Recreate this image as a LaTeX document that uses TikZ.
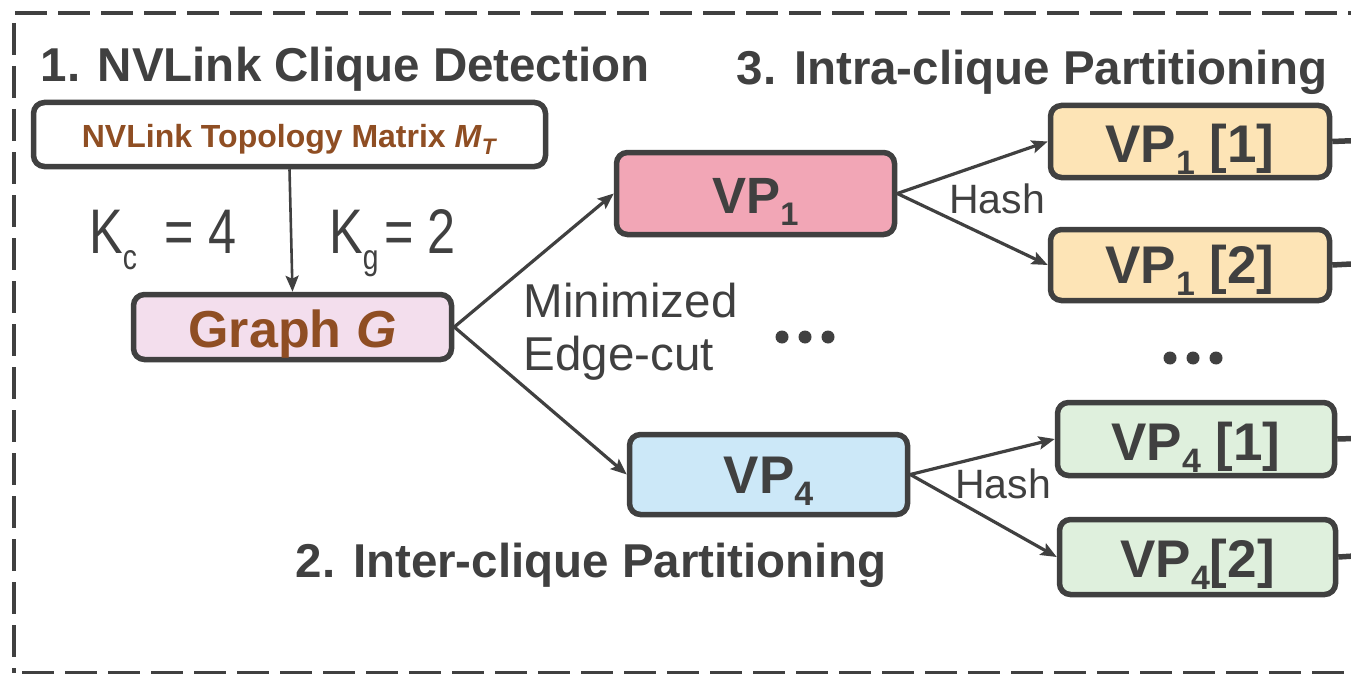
\documentclass[tikz,border=0pt]{standalone}
\usepackage{fontspec}
\setmainfont{Liberation Sans}
\newfontfamily\narrowfont[FakeStretch=0.8]{Liberation Sans}
\usetikzlibrary{arrows.meta}
\definecolor{dk}{RGB}{64,64,64}
\definecolor{brn}{RGB}{143,78,35}
\definecolor{graphfill}{RGB}{243,222,237}
\definecolor{vponefill}{RGB}{242,166,182}
\definecolor{vpfourfill}{RGB}{204,232,248}
\definecolor{orfill}{RGB}{253,228,182}
\definecolor{grfill}{RGB}{223,240,221}
\newcommand\sbx[1]{\raisebox{-0.24em}{\scalebox{0.64}{#1}}}
\newcommand\ksub[1]{\raisebox{-0.26em}{\scalebox{0.56}{#1}}}
\begin{document}
\begin{tikzpicture}[x=1pt,y=-1pt,
  box/.style={draw=dk, line width=5.5pt, rounded corners=11pt, inner sep=0pt, text=dk, font=\bfseries},
  arr/.style={draw=dk, line width=3.2pt, -{Stealth[length=16pt,width=13pt,inset=3pt]}},
  outline/.style={draw=dk, line width=5.5pt},
  border/.style={draw=dk, line width=3.5pt, dash pattern=on 32pt off 11pt},
  title/.style={inner sep=0pt, anchor=base, text=dk, font=\fontsize{47.5}{56}\selectfont\bfseries},
  plain/.style={inner sep=0pt, anchor=base west, text=dk, font=\fontsize{47.5}{53}\selectfont},
  hashlbl/.style={inner sep=0pt, anchor=base west, text=dk, font=\fontsize{41}{46}\selectfont},
  klbl/.style={inner sep=0pt, anchor=base west, text=dk, font=\narrowfont\fontsize{63}{70}\selectfont},
  vpfont/.style={font=\fontsize{53}{60}\selectfont\bfseries}
]
\useasboundingbox (0,0) rectangle (1351,674);
\fill[white] (0,0) rectangle (1351,674);

% dashed frame
\draw[border] (15,13) -- (1365,13);
\draw[border] (14,23) -- (14,673);
\draw[border] (22,673) -- (1365,673);

% titles
\node[title] (t1) at (345,82) {1. NVLink Clique Detection};
\node[title] (t3) at (1032,85) {3. Intra-clique Partitioning};
\node[title] (t2) at (591,577) {2. Inter-clique Partitioning};

% boxes
\node[box, fill=white, minimum width=512pt, minimum height=64pt, text height=25pt, text depth=0pt, text=brn,
      font=\fontsize{32}{38}\selectfont\bfseries] (T) at (289.5,134.5)
      {NVLink Topology Matrix \textit{M}\raisebox{-0.22em}{\scalebox{0.7}{\textit{T}}}};
\node[box, fill=graphfill, minimum width=318pt, minimum height=65pt, text height=40pt, text depth=0pt, text=brn,
      font=\fontsize{52}{60}\selectfont\bfseries] (G) at (292.5,327) {Graph \textit{G}};
\node[box, fill=vponefill, minimum width=278pt, minimum height=82pt, text height=39pt, text depth=0pt,
      font=\fontsize{51}{60}\selectfont\bfseries] (VP1) at (755.5,193.5) {VP\sbx{1}};
\node[box, vpfont, fill=vpfourfill, minimum width=278pt, minimum height=80pt, text height=37pt, text depth=0pt] (VP4) at (768.5,474.5) {VP\sbx{4}};
\node[box, vpfont, fill=orfill, minimum width=279pt, minimum height=72pt, text height=41pt, text depth=0pt] (VP11) at (1190,141.5) {VP\sbx{1}\ [1]};
\node[box, vpfont, fill=orfill, minimum width=279pt, minimum height=71pt, text height=36pt, text depth=0pt] (VP12) at (1190,265) {VP\sbx{1}\ [2]};
\node[box, vpfont, fill=grfill, minimum width=277pt, minimum height=73pt, text height=42pt, text depth=0pt] (VP41) at (1196,439) {VP\sbx{4}\ [1]};
\node[box, vpfont, fill=grfill, minimum width=276pt, minimum height=75pt, text height=40pt, text depth=0pt] (VP42) at (1197.5,557) {VP\sbx{4}[2]};

% labels
\node[klbl] (kc) at (89,253) {K\ksub{c}\ \ = 4};
\node[klbl] (kg) at (329,253) {K\ksub{g}\hspace{6pt}= 2};
\node[plain] (min1) at (523.5,317) {Minimized};
\node[plain] (min2) at (523.5,370) {Edge-cut};
\node[hashlbl] (h1) at (949,213) {Hash};
\node[hashlbl] (h2) at (955,498) {Hash};

% dots
\fill[dk] (782,337) circle (6.5pt) (805,337) circle (6.5pt) (828,337) circle (6.5pt);
\fill[dk] (1170,358) circle (6.5pt) (1193,358) circle (6.5pt) (1216,358) circle (6.5pt);

% arrows
\draw[arr, line width=2.6pt] (T.south) -- (G.north);
\draw[arr] (G.east) -- (VP1.west);
\draw[arr] (G.east) -- (VP4.west);
\draw[arr] (VP1.east) -- (VP11.west);
\draw[arr] (VP1.east) -- (VP12.west);
\draw[arr] (VP4.east) -- (VP41.west);
\draw[arr] (VP4.east) -- (VP42.west);

% outgoing lines at the right edge
\coordinate (o1) at (1370,140);
\coordinate (o2) at (1370,263);
\coordinate (o3) at (1370,438);
\coordinate (o4) at (1370,555);
\draw[outline] (VP11.east) -- (o1);
\draw[outline] (VP12.east) -- (o2);
\draw[outline] (VP41.east) -- (o3);
\draw[outline] (VP42.east) -- (o4);
\end{tikzpicture}
\end{document}
